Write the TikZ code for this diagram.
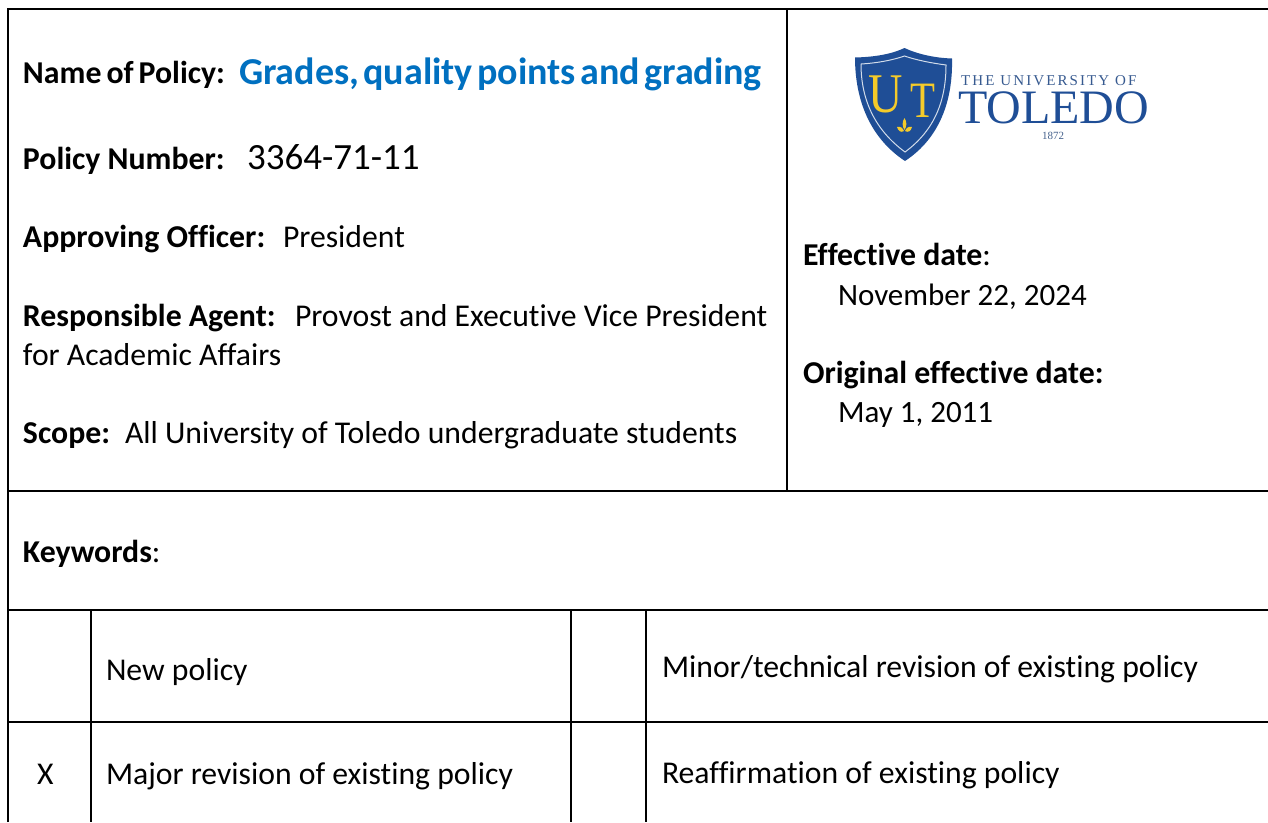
\documentclass[tikz,border=0pt]{standalone}
\usepackage{fontspec}
\setmainfont[Ligatures=NoCommon]{Carlito}
\newfontfamily\logof{Liberation Serif}
\newfontfamily\logosp[LetterSpace=14]{Liberation Serif}
\definecolor{tblue}{HTML}{0070C0}
\definecolor{utblue}{HTML}{1F4E96}
\definecolor{utgold}{HTML}{F5CB2A}
\tikzset{
  rule/.style={line width=2pt,black},
  txt/.style={anchor=base west,inner sep=0pt,outer sep=0pt,text=black},
  lab/.style={txt,font=\fontsize{31.8}{36}\selectfont\bfseries},
  val/.style={txt,font=\fontsize{31.7}{36}\selectfont},
  datev/.style={txt,font=\fontsize{31}{36}\selectfont},
}
\begin{document}
\begin{tikzpicture}[x=1pt,y=-1pt]
\useasboundingbox (0,0) rectangle (1268,822);
\fill[white] (0,0) rectangle (1268,822);
% rules
\draw[rule] (8,822) -- (8,9) -- (1268,9);
\draw[rule] (787,9) -- (787,491);
\draw[rule] (8,491) -- (1268,491);
\draw[rule] (8,610) -- (1268,610);
\draw[rule] (8,722) -- (1268,722);
\draw[rule] (91,610) -- (91,822);
\draw[rule] (571,610) -- (571,822);
\draw[rule] (646,610) -- (646,822);
% left cell
\node[lab] at (23,83) {\spaceskip=5pt Name of Policy:};
\node[txt,font=\fontsize{38}{42}\selectfont\bfseries,text=tblue] at (239,84) {\spaceskip=4.4pt Grades, quality points and grading};
\node[lab] at (23,169) {Policy Number:};
\node[txt,font=\fontsize{37}{42}\selectfont] at (247,169) {3364-71-11};
\node[lab] at (23,247) {Approving Officer:};
\node[val] at (283,247) {President};
\node[lab] at (23,326) {Responsible Agent:};
\node[val] at (295,326) {Provost and Executive Vice President};
\node[val] at (23,365) {for Academic Affairs};
\node[lab] at (23,443) {Scope:};
\node[val] at (125,443) {All University of Toledo undergraduate students};
% right cell
\node[lab] at (803,265) {Effective date\textmd{:}};
\node[datev] at (838,305) {November 22, 2024};
\node[lab] at (803,383) {Original effective date:};
\node[datev] at (838,422) {May 1, 2011};
% keywords
\node[lab] at (23,562) {Keywords\textmd{:}};
% table
\node[val] at (106,680) {New policy};
\node[val] at (662,677) {Minor/technical revision of existing policy};
\node[val] at (37,784) {X};
\node[val] at (106,784) {Major revision of existing policy};
\node[val] at (662,783) {Reaffirmation of existing policy};
% logo
\fill[utblue] (855,57.5) .. controls (875,57) and (892,54) .. (904.5,48)
  .. controls (917,54) and (935,58) .. (952,58.5)
  .. controls (953,100) and (940,138) .. (905,161)
  .. controls (870,138) and (855,100) .. (855,57.5) -- cycle;
\draw[white!80!utblue,line width=1pt] (861,64) .. controls (878,63) and (893,60) .. (904.5,56)
  .. controls (916,60) and (931,63) .. (946,65)
  .. controls (946,100) and (935,130) .. (905,152)
  .. controls (875,130) and (861,100) .. (861,64) -- cycle;
\node[anchor=base,inner sep=0pt,text=utgold,font=\fontsize{56}{56}\logof] at (886,112) {\scalebox{.85}[1]{U}};
\node[anchor=base,inner sep=0pt,text=utgold,font=\fontsize{51}{51}\logof] at (923,117) {\scalebox{.8}[1]{T}};
\fill[utgold] (904.5,118) .. controls (902,122) and (902,126) .. (904.5,130)
  .. controls (907,126) and (907,122) .. (904.5,118) -- cycle;
\fill[utgold] (897,127) .. controls (900,126) and (903,128) .. (904,131)
  .. controls (901,133) and (898,131) .. (897,127) -- cycle;
\fill[utgold] (912,127) .. controls (909,126) and (906,128) .. (905,131)
  .. controls (908,133) and (911,131) .. (912,127) -- cycle;
\node[anchor=base west,inner sep=0pt,text=utblue!75!gray,font=\fontsize{15}{15}\logosp] at (961,85) {THE UNIVERSITY OF};
\node[anchor=base west,inner sep=0pt,text=utblue,font=\fontsize{48}{48}\logof] at (958,123) {TOLEDO};
\node[anchor=base,inner sep=0pt,text=utblue!60!gray,font=\fontsize{11}{11}\logof] at (1053,139) {1872};
\end{tikzpicture}
\end{document}
